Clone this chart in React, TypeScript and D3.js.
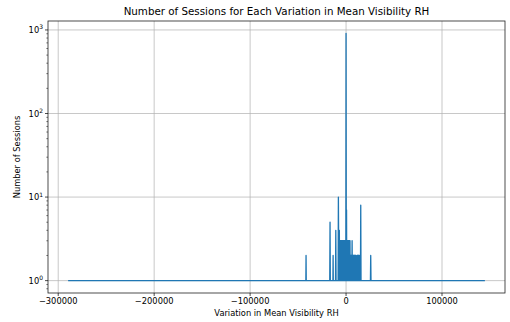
import React from "react";
import * as d3 from "d3";

const variation: number[] = [
  -289000, -41900, -41700, -41500,
  -17000, -16700, -16400,
  -13700, -13500, -13300,
  -11000, -10700, -10400,
  -8300, -8000,
  -7800, -7600, -7400, -7200, -7000, -6800, -6600, -6400, -6200, -6000,
  -5800, -5600, -5400, -5200, -5000, -4800, -4600, -4400, -4200, -4000,
  -3800, -3600, -3400, -3200, -3000, -2800, -2600, -2400, -2200, -2000,
  -1800, -1600, -1400, -1200, -1000, -800, -600, -400, -200,
  0,
  200, 500, 700, 900, 1100, 1300, 1500, 1700, 1900, 2100, 2300, 2500,
  2700, 2900, 3100, 3300, 3500, 3700, 3900, 4100, 4300,
  4600, 4800, 5000, 5200, 5400, 5600, 5800, 6000, 6300, 6600, 6900,
  7100, 7300, 7500, 7700, 7900, 8100, 8300, 8500, 8700, 8900, 9100,
  9300, 9500, 9700, 9900, 10100, 10400,
  11200, 11400, 11600, 11800, 12000, 12200, 12400, 12600, 12800, 13000,
  13200, 13400, 13600, 13800, 14000, 14300,
  15000, 15300, 15600,
  25400, 25700, 26000,
  144000,
];

const sessions: number[] = [
  1, 1, 2, 1,
  1, 5, 1,
  1, 2, 1,
  1, 4, 1,
  1, 10,
  4, 1, 4, 1, 4, 1, 3, 1, 3, 1,
  3, 1, 3, 1, 3, 1, 3, 1, 3, 1,
  3, 1, 3, 1, 3, 1, 3, 1, 3, 1,
  3, 1, 3, 1, 3, 1, 3, 1, 3,
  910,
  4, 7, 1, 3, 1, 3, 1, 3, 1, 3, 1, 3,
  1, 3, 1, 3, 1, 3, 1, 3, 1,
  2, 1, 2, 1, 2, 1, 2, 1, 3, 1, 2,
  1, 2, 1, 2, 1, 2, 1, 2, 1, 2, 1,
  2, 1, 2, 1, 2, 1,
  1, 2, 1, 2, 1, 2, 1, 2, 1, 2,
  1, 2, 1, 2, 1, 1,
  1, 8, 1,
  1, 2, 1,
  1,
];

const xTicks: number[] = [-300000, -200000, -100000, 0, 100000];
const yTicks: number[] = [1, 10, 100, 1000];
const yExps: string[] = ["0", "1", "2", "3"];

const W = 510;
const H = 322;
const L = 48;
const R = 505;
const T = 21;
const B = 293;

export default function App() {
  const xMin = d3.min(variation) as number;
  const xMax = d3.max(variation) as number;
  const xPad = (xMax - xMin) * 0.05;
  const x = d3.scaleLinear().domain([xMin - xPad, xMax + xPad]).range([L, R]);

  const lyMin = Math.log10(d3.min(sessions) as number);
  const lyMax = Math.log10(d3.max(sessions) as number);
  const lyPad = (lyMax - lyMin) * 0.05;
  const y = d3
    .scaleLog()
    .domain([Math.pow(10, lyMin - lyPad), Math.pow(10, lyMax + lyPad)])
    .range([B, T]);

  const pts: [number, number][] = variation.map((v, i) => [v, sessions[i]]);
  const line = d3
    .line<[number, number]>()
    .x((d) => x(d[0]))
    .y((d) => y(d[1]));

  const minor: number[] = [];
  const [lo, hi] = y.domain();
  [0.1, 1, 10, 100, 1000].forEach((base) => {
    for (let k = 2; k <= 9; k++) {
      const v = base * k;
      if (v > lo && v < hi) minor.push(v);
    }
  });

  const font = "'DejaVu Sans', sans-serif";
  const fmt = (v: number) => (v < 0 ? "\u2212" + Math.abs(v) : String(v));

  return (
    <svg
      width={W}
      height={H}
      style={{ position: "absolute", left: 0, top: 0, background: "#fff" }}
      fontFamily={font}
    >
      <rect x={0} y={0} width={W} height={H} fill="#fff" />
      <g stroke="#b0b0b0" strokeWidth={0.7}>
        {xTicks.map((t) => (
          <line key={"gx" + t} x1={x(t)} x2={x(t)} y1={T} y2={B} />
        ))}
        {yTicks.map((t) => (
          <line key={"gy" + t} x1={L} x2={R} y1={y(t)} y2={y(t)} />
        ))}
      </g>
      <path
        d={line(pts) || ""}
        fill="none"
        stroke="#1f77b4"
        strokeWidth={1.3}
        strokeLinejoin="round"
        strokeLinecap="square"
      />
      <rect x={L} y={T} width={R - L} height={B - T} fill="none" stroke="#222" strokeWidth={0.8} />
      {xTicks.map((t) => (
        <g key={"xt" + t}>
          <line x1={x(t)} x2={x(t)} y1={B} y2={B + 3} stroke="#000" strokeWidth={0.7} />
          <text x={x(t)} y={B + 11} fontSize={8.3} textAnchor="middle" fill="#000">
            {fmt(t)}
          </text>
        </g>
      ))}
      {yTicks.map((t, i) => (
        <g key={"yt" + t}>
          <line x1={L - 3} x2={L} y1={y(t)} y2={y(t)} stroke="#000" strokeWidth={0.7} />
          <text x={L - 5} y={y(t) + 3} fontSize={8.3} textAnchor="end" fill="#000">
            <tspan>10</tspan>
            <tspan dy={-3.5} fontSize={6}>
              {yExps[i]}
            </tspan>
          </text>
        </g>
      ))}
      {minor.map((v) => (
        <line key={"mt" + v} x1={L - 1.7} x2={L} y1={y(v)} y2={y(v)} stroke="#000" strokeWidth={0.5} />
      ))}
      <text x={(L + R) / 2} y={316} fontSize={8.3} textAnchor="middle" fill="#000">
        Variation in Mean Visibility RH
      </text>
      <text
        transform={`translate(20,${(T + B) / 2}) rotate(-90)`}
        fontSize={8.3}
        textAnchor="middle"
        fill="#000"
      >
        Number of Sessions
      </text>
      <text x={(L + R) / 2} y={15} fontSize={10.3} textAnchor="middle" fill="#000">
        Number of Sessions for Each Variation in Mean Visibility RH
      </text>
    </svg>
  );
}
